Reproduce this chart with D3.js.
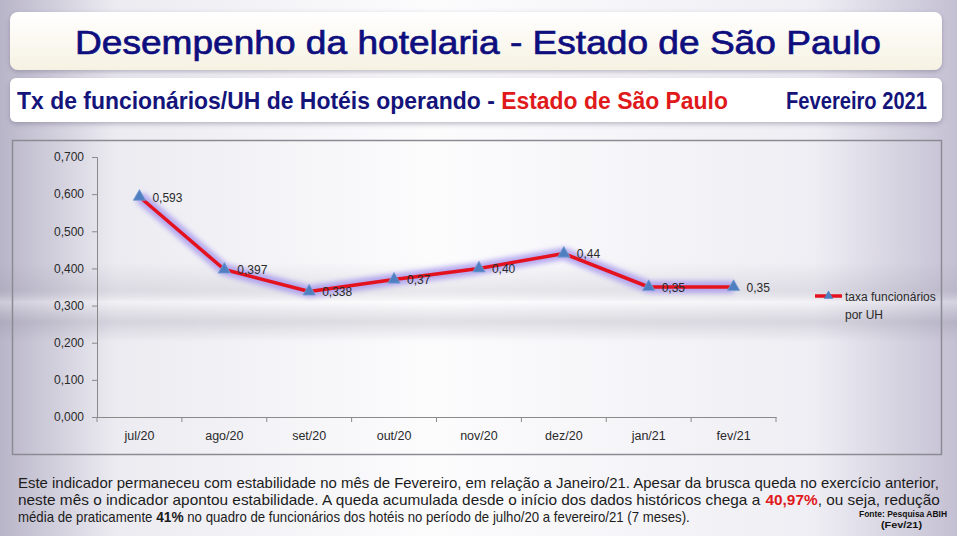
<!DOCTYPE html>
<html>
<head>
<meta charset="utf-8">
<title>Desempenho da hotelaria - Estado de São Paulo</title>
<script src="https://cdn.jsdelivr.net/npm/d3@7"></script>
<style>
  html, body { margin: 0; padding: 0; background: #dcdae3; }
  svg { display: block; }
</style>
</head>
<body>
<div id="chart"></div>
<script>
// chart data
var months = ["jul/20", "ago/20", "set/20", "out/20", "nov/20", "dez/20", "jan/21", "fev/21"];
var values = [0.593, 0.397, 0.338, 0.37, 0.40, 0.44, 0.35, 0.35];
var valueLabels = ["0,593", "0,397", "0,338", "0,37", "0,40", "0,44", "0,35", "0,35"];
var yTicks = [0, 0.1, 0.2, 0.3, 0.4, 0.5, 0.6, 0.7];
var seriesName = ["taxa funcionários", "por UH"];

var w = 957, h = 536;
var arial = "'Liberation Sans', Arial, sans-serif";

var svg = d3.select("#chart").append("svg")
    .attr("width", w)
    .attr("height", h);

var defs = svg.append("defs");

// background gradients
var bgH = defs.append("linearGradient").attr("id", "bgH");
bgH.append("stop").attr("offset", "0%").attr("stop-color", "#b9b5c9");
bgH.append("stop").attr("offset", "12%").attr("stop-color", "#ecebf1");
bgH.append("stop").attr("offset", "45%").attr("stop-color", "#fcfcfd");
bgH.append("stop").attr("offset", "85%").attr("stop-color", "#efeef4");
bgH.append("stop").attr("offset", "100%").attr("stop-color", "#c4c0d3");

var band = defs.append("linearGradient").attr("id", "band")
    .attr("x1", 0).attr("y1", 0).attr("x2", 0).attr("y2", 1);
band.append("stop").attr("offset", "0%").attr("stop-color", "#8f8c9e").attr("stop-opacity", 0);
band.append("stop").attr("offset", "35%").attr("stop-color", "#8f8c9e").attr("stop-opacity", 0.18);
band.append("stop").attr("offset", "50%").attr("stop-color", "#ffffff").attr("stop-opacity", 0.3);
band.append("stop").attr("offset", "75%").attr("stop-color", "#8f8c9e").attr("stop-opacity", 0.25);
band.append("stop").attr("offset", "100%").attr("stop-color", "#8f8c9e").attr("stop-opacity", 0);

var boxGrad = defs.append("linearGradient").attr("id", "boxGrad")
    .attr("x1", 0).attr("y1", 0).attr("x2", 0).attr("y2", 1);
boxGrad.append("stop").attr("offset", "0%").attr("stop-color", "#ffffff");
boxGrad.append("stop").attr("offset", "100%").attr("stop-color", "#f6f2e2");

var shadow = defs.append("filter").attr("id", "shadow")
    .attr("x", "-5%").attr("y", "-20%").attr("width", "110%").attr("height", "150%");
shadow.append("feDropShadow").attr("dx", 0).attr("dy", 2).attr("stdDeviation", 2.5)
    .attr("flood-color", "#6a6680").attr("flood-opacity", 0.45);

var glow = defs.append("filter").attr("id", "glow")
    .attr("x", "-10%").attr("y", "-30%").attr("width", "120%").attr("height", "160%");
glow.append("feGaussianBlur").attr("stdDeviation", 2.5);

svg.append("rect").attr("width", w).attr("height", h).attr("fill", "url(#bgH)");
svg.append("rect").attr("x", 0).attr("y", 262).attr("width", w).attr("height", 80)
    .attr("fill", "url(#band)");

// title boxes
svg.append("rect")
    .attr("x", 10).attr("y", 12).attr("width", 932).attr("height", 58).attr("rx", 8)
    .attr("fill", "url(#boxGrad)").attr("filter", "url(#shadow)");
svg.append("text")
    .attr("x", 478).attr("y", 54)
    .attr("text-anchor", "middle")
    .attr("textLength", 806).attr("lengthAdjust", "spacingAndGlyphs")
    .style("font-family", arial).style("font-size", "34px")
    .attr("fill", "#0e0e7e")
    .attr("stroke", "#0e0e7e").attr("stroke-width", 0.7)
    .text("Desempenho da hotelaria - Estado de São Paulo");

svg.append("rect")
    .attr("x", 10).attr("y", 78).attr("width", 932).attr("height", 44).attr("rx", 6)
    .attr("fill", "#ffffff").attr("filter", "url(#shadow)");
var sub = svg.append("text")
    .attr("x", 17).attr("y", 109)
    .attr("textLength", 711).attr("lengthAdjust", "spacingAndGlyphs")
    .style("font-family", arial).style("font-size", "24px").style("font-weight", "bold");
sub.append("tspan").attr("fill", "#14147a").text("Tx de funcionários/UH de Hotéis operando - ");
sub.append("tspan").attr("fill", "#e0191b").text("Estado  de São Paulo");
svg.append("text")
    .attr("x", 786).attr("y", 109)
    .attr("textLength", 141).attr("lengthAdjust", "spacingAndGlyphs")
    .style("font-family", arial).style("font-size", "24px").style("font-weight", "bold")
    .attr("fill", "#14147a")
    .text("Fevereiro 2021");

// chart frame
svg.append("rect")
    .attr("x", 12.5).attr("y", 140.5).attr("width", 929).attr("height", 314)
    .attr("fill", "none").attr("stroke", "#8c8b93").attr("stroke-width", 1.5);

// scales
var xScale = d3.scaleBand()
    .domain(months)
    .range([97, 776]);

var yScale = d3.scaleLinear()
    .domain([0, 0.7])
    .range([417, 157]);

var ptBr = d3.formatLocale({ decimal: ",", thousands: ".", grouping: [3], currency: ["R$", ""] });
var fmt = ptBr.format(".3f");

// axes
var yAxis = d3.axisLeft(yScale)
    .tickValues(yTicks)
    .tickFormat(fmt)
    .tickSize(5)
    .tickPadding(8);

var gy = svg.append("g").attr("transform", "translate(97,0)").call(yAxis);
gy.select(".domain").attr("stroke", "#8a8a8a");
gy.selectAll(".tick line").attr("stroke", "#8a8a8a");
gy.selectAll(".tick text")
    .style("font-family", arial).style("font-size", "12px").attr("fill", "#2a2a2a");

var xAxis = d3.axisBottom(xScale)
    .tickSize(0)
    .tickPadding(14);

var gx = svg.append("g").attr("transform", "translate(0,417)").call(xAxis);
gx.select(".domain").attr("stroke", "#8a8a8a");
gx.selectAll(".tick text")
    .style("font-family", arial).style("font-size", "12.5px").attr("fill", "#2a2a2a");

// x tick marks at category boundaries
var edges = months.map(function (m) { return xScale(m); }).concat([xScale.range()[1]]);
gx.selectAll(".edge")
    .data(edges)
    .enter()
    .append("line")
    .attr("class", "edge")
    .attr("x1", function (d) { return d; })
    .attr("x2", function (d) { return d; })
    .attr("y1", 0).attr("y2", 5)
    .attr("stroke", "#8a8a8a");

// line series
var points = months.map(function (m, i) {
    return { m: m, v: values[i], label: valueLabels[i] };
});
var cx = function (d) { return xScale(d.m) + xScale.bandwidth() / 2; };

var line = d3.line()
    .x(cx)
    .y(function (d) { return yScale(d.v); });

svg.append("path")
    .datum(points)
    .attr("d", line)
    .attr("fill", "none")
    .attr("stroke", "#a596ee")
    .attr("stroke-width", 12)
    .attr("stroke-opacity", 0.8)
    .attr("stroke-linejoin", "round")
    .attr("filter", "url(#glow)");

svg.append("path")
    .datum(points)
    .attr("d", line)
    .attr("fill", "none")
    .attr("stroke", "#e3121e")
    .attr("stroke-width", 3.5)
    .attr("stroke-linejoin", "round");

var tri = d3.symbol().type(d3.symbolTriangle).size(66);

svg.selectAll(".marker")
    .data(points)
    .enter()
    .append("path")
    .attr("class", "marker")
    .attr("d", tri)
    .attr("transform", function (d) { return "translate(" + cx(d) + "," + yScale(d.v) + ")"; })
    .attr("fill", "#4f7fc0")
    .attr("stroke", "#7a9fd6")
    .attr("stroke-width", 0.8);

svg.selectAll(".vlabel")
    .data(points)
    .enter()
    .append("text")
    .attr("class", "vlabel")
    .attr("x", function (d) { return cx(d) + 13; })
    .attr("y", function (d) { return yScale(d.v); })
    .attr("dy", "0.4em")
    .style("font-family", arial).style("font-size", "12px")
    .attr("fill", "#2a2a2a")
    .text(function (d) { return d.label; });

// legend
var lg = svg.append("g").attr("transform", "translate(815,296)");
lg.append("line").attr("x1", 0).attr("x2", 27).attr("y1", 0).attr("y2", 0)
    .attr("stroke", "#e3121e").attr("stroke-width", 3.5);
lg.append("path").attr("d", d3.symbol().type(d3.symbolTriangle).size(40))
    .attr("transform", "translate(13.5,0)")
    .attr("fill", "#4f7fc0");
lg.selectAll("text")
    .data(seriesName)
    .enter()
    .append("text")
    .attr("x", 30)
    .attr("y", function (d, i) { return i * 18; })
    .attr("dy", "0.38em")
    .style("font-family", arial).style("font-size", "12px")
    .attr("fill", "#2a2a2a")
    .text(function (d) { return d; });

// footer note: each line is a row of pieces, squeezed to the width it has in the slide
function noteLine(y, width, pieces) {
    var g = svg.append("g");
    var inner = g.append("g");
    var x = 0;
    pieces.forEach(function (p) {
        var t = inner.append("text")
            .attr("x", x).attr("y", 0)
            .style("font-family", arial)
            .style("font-size", (p.size || 14) + "px")
            .style("font-weight", p.bold ? "bold" : "normal")
            .attr("fill", p.color || "#1c1c1c")
            .style("white-space", "pre")
            .text(p.t);
        x += t.node().getComputedTextLength();
    });
    g.attr("transform", "translate(18," + y + ") scale(" + (width / x) + ",1)");
}

noteLine(488, 922, [
    { t: "Este indicador permaneceu com estabilidade no mês de Fevereiro, em relação a Janeiro/21. Apesar da brusca queda no exercício anterior," }
]);
noteLine(505, 922, [
    { t: "neste mês o indicador apontou estabilidade. A queda acumulada desde o início dos dados históricos chega a " },
    { t: "40,97%", bold: true, color: "#e0191b" },
    { t: ", ou seja, redução" }
]);
noteLine(522, 672, [
    { t: "média de praticamente " },
    { t: "41%", bold: true, size: 14.5 },
    { t: " no quadro de funcionários dos hotéis no período de julho/20 a fevereiro/21 (7 meses)." }
]);

var src = svg.append("g")
    .style("font-family", arial).style("font-size", "9px").style("font-weight", "bold")
    .attr("fill", "#111");
src.append("text").attr("x", 859).attr("y", 517)
    .attr("textLength", 88).attr("lengthAdjust", "spacingAndGlyphs")
    .text("Fonte: Pesquisa ABIH");
src.append("text").attr("x", 881).attr("y", 528)
    .attr("textLength", 41).attr("lengthAdjust", "spacingAndGlyphs")
    .text("(Fev/21)");
</script>
</body>
</html>
